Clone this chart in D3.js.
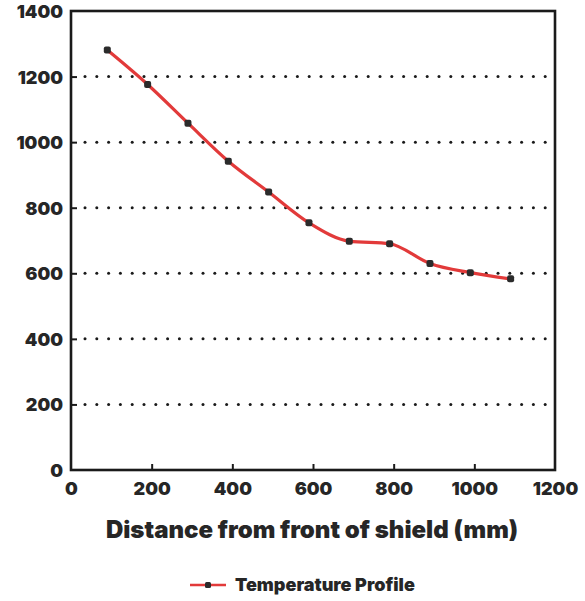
<!DOCTYPE html>
<html>
<head>
<script src="https://cdn.jsdelivr.net/npm/d3@7"></script>
<style>
  body { margin: 0; background: #fff; }
  text { font-family: Inter, "DejaVu Sans", sans-serif; font-weight: 900; fill: #262626; }
</style>
</head>
<body>
<svg id="chart" width="585" height="601"></svg>
<script>
// data
var distance = [90, 190, 290, 390, 490, 590, 690, 790, 890, 990, 1090];
var temperature = [1281, 1176, 1058, 942, 848, 754, 698, 690, 630, 602, 583];
var xTicks = [0, 200, 400, 600, 800, 1000, 1200];
var yTicks = [0, 200, 400, 600, 800, 1000, 1200, 1400];
var xTitle = "Distance from front of shield (mm)";
var seriesName = "Temperature Profile";

var svg = d3.select("#chart");
var mLeft = 71, mRight = 555, mTop = 11, mBottom = 470;

var x = d3.scaleLinear().domain([0, 1200]).range([mLeft, mRight]);
var y = d3.scaleLinear().domain([0, 1400]).range([mBottom, mTop]);

// dotted gridlines
var grid = svg.append("g");
yTicks.filter(function(d) { return d > 0 && d < 1400; }).forEach(function(t) {
  grid.selectAll(null)
    .data(d3.range(mLeft + 14, mRight - 2, 11.8))
    .enter().append("circle")
    .attr("cx", function(d) { return d; })
    .attr("cy", y(t))
    .attr("r", 1.5)
    .attr("fill", "#1a1a1a");
});

// axes
var xAxis = svg.append("g")
  .attr("transform", "translate(0," + mBottom + ")")
  .call(d3.axisBottom(x).tickValues(xTicks).tickFormat(d3.format("d")).tickSize(-6).tickPadding(12));
var yAxis = svg.append("g")
  .attr("transform", "translate(" + mLeft + ",0)")
  .call(d3.axisLeft(y).tickValues(yTicks).tickFormat(d3.format("d")).tickSize(-6).tickPadding(8));

[xAxis, yAxis].forEach(function(a) {
  a.select(".domain").remove();
  a.selectAll(".tick line").attr("stroke", "#1a1a1a").attr("stroke-width", 2);
  a.selectAll(".tick text").style("font-size", "18px").style("font-family", null);
});
xAxis.selectAll(".tick line").filter(function(d) { return d === 0 || d === 1200; }).remove();
yAxis.selectAll(".tick line").filter(function(d) { return d === 0 || d === 1400; }).remove();
yAxis.selectAll(".tick text").attr("dy", "0.36em");

// frame
svg.append("rect")
  .attr("x", mLeft).attr("y", mTop)
  .attr("width", mRight - mLeft).attr("height", mBottom - mTop)
  .attr("fill", "none").attr("stroke", "#1a1a1a").attr("stroke-width", 2.6);

// series
var pts = distance.map(function(d, i) { return [d, temperature[i]]; });
var line = d3.line()
  .x(function(d) { return x(d[0]); })
  .y(function(d) { return y(d[1]); })
  .curve(d3.curveMonotoneX);

svg.append("path")
  .datum(pts)
  .attr("d", line)
  .attr("fill", "none")
  .attr("stroke", "#e23a3a")
  .attr("stroke-width", 3.2);

svg.selectAll(".pt")
  .data(pts)
  .enter().append("rect")
  .attr("class", "pt")
  .attr("x", function(d) { return x(d[0]) - 3.5; })
  .attr("y", function(d) { return y(d[1]) - 3.5; })
  .attr("width", 7).attr("height", 7).attr("rx", 2)
  .attr("fill", "#2b2b2b");

// axis title
svg.append("text")
  .attr("x", 312).attr("y", 538)
  .attr("text-anchor", "middle")
  .style("font-size", "24px")
  .text(xTitle);

// legend
var lg = svg.append("g").attr("transform", "translate(190,585)");
lg.append("line").attr("x1", 0).attr("x2", 36).attr("y1", 0).attr("y2", 0)
  .attr("stroke", "#e23a3a").attr("stroke-width", 2.5);
lg.append("rect").attr("x", 15).attr("y", -3).attr("width", 6).attr("height", 6).attr("rx", 1.5)
  .attr("fill", "#2b2b2b");
lg.append("text").attr("x", 45).attr("y", 6)
  .style("font-size", "18px")
  .text(seriesName);
</script>
</body>
</html>
